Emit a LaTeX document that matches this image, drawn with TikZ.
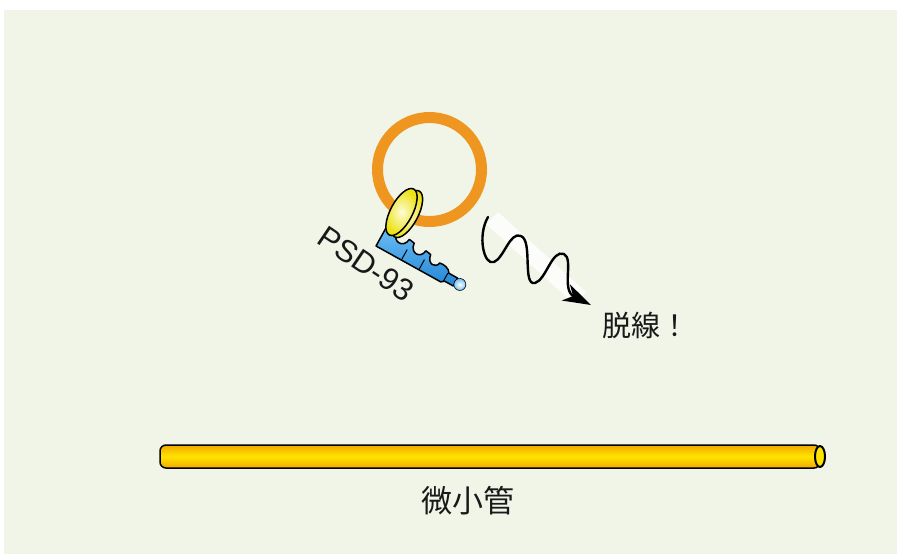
\documentclass[tikz,border=0pt]{standalone}
\usepackage{fontspec}
\setmainfont{Liberation Sans}
\newfontfamily\jp{Noto Sans CJK JP}
\usetikzlibrary{arrows.meta}

\definecolor{bg}{RGB}{240,245,232}
\definecolor{ringorange}{RGB}{238,150,32}
\definecolor{tubeyellow}{RGB}{255,228,0}
\definecolor{tubeorange}{RGB}{240,168,0}
\definecolor{bodyblue}{RGB}{35,135,215}
\definecolor{bodylight}{RGB}{110,190,245}
\definecolor{headyellow}{RGB}{236,226,20}
\definecolor{headlight}{RGB}{252,252,215}
\definecolor{ink}{RGB}{25,25,25}

\begin{document}
\begin{tikzpicture}[x=1pt,y=-1pt,
  outline/.style={draw=black,line width=1.5pt,line join=round},
  label/.style={inner sep=0pt,text=ink},
  headlobe/.style={outline,inner color=headlight,outer color=headyellow},
  wave/.style={line width=2.4pt,line cap=round,
    -{Stealth[length=28pt,width=18pt,inset=8pt]}}]
\useasboundingbox (0,0) rectangle (897,554);
\fill[bg] (4,10) rectangle (897,554);

% cargo vesicle
\node[circle,draw=ringorange,line width=11pt,minimum size=104pt,inner sep=0pt]
  (cargo) at (429.5,169.5) {};

% motor body (PSD-93): a ridged strip ending in a small knob
\begin{scope}[shift={(376,246)},rotate=-29,y=1pt]
  \draw[outline,top color=bodylight,bottom color=bodyblue]
    (0,0) -- (74,0) -- (77,2.5) -- (87,2.5) -- (87,11.5) -- (77,11.5)
    .. controls (75,16) and (68,17) .. (64,16)
    .. controls (63,9) and (53,9) .. (52,19)
    -- (46,20)
    .. controls (45,10) and (33,10) .. (32,21)
    -- (26,22)
    .. controls (25,11) and (12,11) .. (11,23)
    -- (0,23) -- cycle;
  \draw[black,line width=1pt] (29,1) -- (29,12) (49,1) -- (49,11.5)
    (76,1) -- (76,11);
  \draw[outline,line width=0.6pt,inner color=white,outer color=bodylight]
    (92,7) circle[radius=6pt];
\end{scope}

% motor head: two overlapping lobes
\draw[headlobe,rotate around={62:(407,214)}]
  (407,214) ellipse[x radius=26pt,y radius=11pt];
\draw[headlobe,rotate around={62:(401.5,212)}]
  (401.5,212) ellipse[x radius=26pt,y radius=11pt];

\node[label,rotate=-34] (psd) at (366,264)
  {\fontsize{31}{31}\selectfont PSD-93};

% detachment arrow with its pale trail
\fill[white,opacity=0.8] (486,224) -- (498,212) -- (586,292) -- (574,304) -- cycle;
\coordinate (w0) at (488,217);
\coordinate (wtip) at (591,305);
\draw[wave]
  (w0) .. controls (477,236) and (484,266) .. (494,262)
  .. controls (504,258) and (510,231) .. (521,236)
  .. controls (533,241) and (522,286) .. (535,283)
  .. controls (546,280) and (552,249) .. (564,254)
  .. controls (574,259) and (561,290) .. (wtip);
\node[label,anchor=west] (derail) at (602,325)
  {\jp\fontsize{29}{29}\selectfont 脱線！};

% microtubule
\draw[outline,rounded corners=6pt,top color=tubeorange,bottom color=tubeorange,
  middle color=tubeyellow]
  (820,445) -- (160,445) -- (160,468) -- (820,468) -- cycle;
\draw[outline,line width=2pt,fill=tubeyellow]
  (820,456.5) ellipse[x radius=5pt,y radius=10.5pt];
\node[label] (mt) at (468,501) {\jp\fontsize{31}{31}\selectfont 微小管};
\end{tikzpicture}
\end{document}
